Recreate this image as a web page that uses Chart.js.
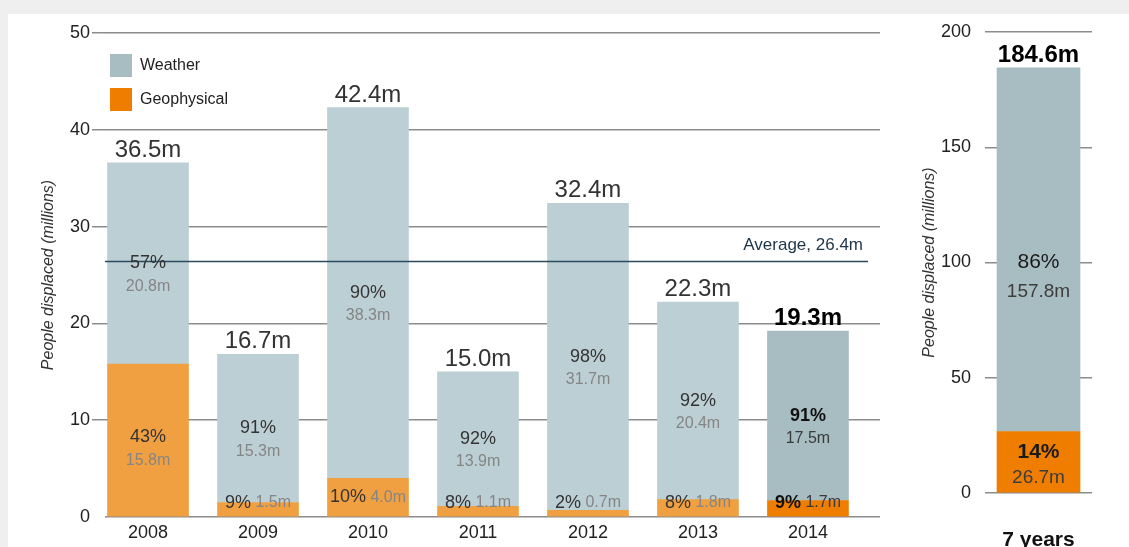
<!DOCTYPE html>
<html>
<head>
<meta charset="utf-8">
<script src="https://cdn.jsdelivr.net/npm/chart.js@4.4.0/dist/chart.umd.min.js"></script>
<style>
  html, body { margin: 0; padding: 0; width: 1129px; height: 547px; overflow: hidden; background: #efefef; }
  #panel { position: absolute; left: 8px; top: 14px; right: 0; bottom: 0; background: #ffffff; }
  #c1wrap { position: absolute; left: 0; top: 0; width: 900px; height: 547px; }
  #c2wrap { position: absolute; left: 900px; top: 0; width: 229px; height: 547px; }
</style>
</head>
<body>
<div id="panel"></div>
<div id="c1wrap"><canvas id="c1" width="900" height="547"></canvas></div>
<div id="c2wrap"><canvas id="c2" width="229" height="547"></canvas></div>
<script>
// ---- data ----
const years = ['2008', '2009', '2010', '2011', '2012', '2013', '2014'];
const weather = [20.8, 15.3, 38.3, 13.9, 31.7, 20.4, 17.5];
const geophysical = [15.8, 1.5, 4.0, 1.1, 0.7, 1.8, 1.7];
const totals = [36.5, 16.7, 42.4, 15.0, 32.4, 22.3, 19.3];
const weatherPct = [57, 91, 90, 92, 98, 92, 91];
const geoPct = [43, 9, 10, 8, 2, 8, 9];
const average = 26.4;

const summaryLabels = ['7 years'];
const summaryWeather = [157.8];
const summaryGeo = [26.7];
const summaryTotal = [184.6];
const summaryWeatherPct = [86];
const summaryGeoPct = [14];

// ---- styles ----
const FONT = "'Liberation Sans', Arial, sans-serif";
const W_LIGHT = '#bccfd4';
const W_DARK = '#a8bdc2';
const G_LIGHT = '#f0a040';
const G_DARK = '#ee7d00';
const GRID = '#8c8c8c';
const TEXT = '#333333';
const HIGHLIGHT = 6;

function fmt(v) { return v.toFixed(1) + 'm'; }

function drawPair(ctx, x, y, pct, amt, opt) {
  ctx.textAlign = 'center';
  ctx.textBaseline = 'middle';
  ctx.font = (opt.bold ? 'bold ' : '') + opt.s1 + 'px ' + FONT;
  ctx.fillStyle = opt.c1;
  ctx.fillText(pct + '%', x, y);
  ctx.font = opt.s2 + 'px ' + FONT;
  ctx.fillStyle = opt.c2;
  ctx.fillText(amt, x, y + opt.gap);
}

function drawInline(ctx, x, y, pct, amt, bold) {
  ctx.textBaseline = 'middle';
  const f1 = (bold ? 'bold ' : '') + '18px ' + FONT;
  const f2 = '16px ' + FONT;
  ctx.font = f1; const w1 = ctx.measureText(pct + '%').width;
  ctx.font = f2; const w2 = ctx.measureText(' ' + amt).width;
  const x0 = x - (w1 + w2) / 2;
  ctx.textAlign = 'left';
  ctx.font = f1; ctx.fillStyle = bold ? '#111' : TEXT;
  ctx.fillText(pct + '%', x0, y);
  ctx.font = f2; ctx.fillStyle = bold ? '#3a3a3a' : '#858585';
  ctx.fillText(' ' + amt, x0 + w1, y);
}

const mainLabels = {
  id: 'mainLabels',
  afterDatasetsDraw(chart) {
    const ctx = chart.ctx;
    const ys = chart.scales.y;
    const area = chart.chartArea;
    const gMeta = chart.getDatasetMeta(0);
    const wMeta = chart.getDatasetMeta(1);
    ctx.save();
    // average line
    const ay = ys.getPixelForValue(average);
    ctx.strokeStyle = '#2b4a5e';
    ctx.lineWidth = 1.6;
    ctx.beginPath(); ctx.moveTo(area.left, ay); ctx.lineTo(area.right - 12, ay); ctx.stroke();
    ctx.font = '17px ' + FONT;
    ctx.fillStyle = '#1e3447';
    ctx.textAlign = 'right'; ctx.textBaseline = 'alphabetic';
    ctx.fillText('Average, ' + average.toFixed(1) + 'm', area.right - 17, ay - 11);

    const zero = ys.getPixelForValue(0);
    years.forEach((yr, i) => {
      const g = gMeta.data[i], w = wMeta.data[i];
      const bold = i === HIGHLIGHT;
      const opt = {
        bold: bold, s1: 18, s2: 16, gap: 23,
        c1: bold ? '#111' : TEXT, c2: bold ? '#3a3a3a' : '#858585'
      };
      // totals
      ctx.textAlign = 'center'; ctx.textBaseline = 'alphabetic';
      ctx.font = (bold ? 'bold ' : '') + '24px ' + FONT;
      ctx.fillStyle = bold ? '#000' : TEXT;
      ctx.fillText(fmt(totals[i]), w.x, w.y - 6);
      // weather segment
      const wMid = (w.y + w.base) / 2;
      drawPair(ctx, w.x, wMid, weatherPct[i], fmt(weather[i]), opt);
      // geophysical segment
      const gh = g.base - g.y;
      if (gh > 50) {
        drawPair(ctx, g.x, (g.y + g.base) / 2 - 3, geoPct[i], fmt(geophysical[i]), opt);
      } else {
        const gy = Math.min((g.y + g.base) / 2, zero - 14);
        drawInline(ctx, g.x, gy, geoPct[i], fmt(geophysical[i]), bold);
      }
    });

    // legend
    const items = [['Weather', W_DARK], ['Geophysical', G_DARK]];
    items.forEach((it, k) => {
      const top = 54 + k * 34;
      ctx.fillStyle = it[1];
      ctx.fillRect(110, top, 22, 23);
      ctx.font = '16px ' + FONT;
      ctx.fillStyle = '#222';
      ctx.textAlign = 'left'; ctx.textBaseline = 'middle';
      ctx.fillText(it[0], 140, top + 12);
    });
    ctx.restore();
  }
};

new Chart(document.getElementById('c1'), {
  type: 'bar',
  data: {
    datasets: [
      {
        label: 'Geophysical',
        data: geophysical.map((v, i) => ({ x: i, y: v })),
        backgroundColor: ctx => ctx.dataIndex === HIGHLIGHT ? G_DARK : G_LIGHT,
        barThickness: 81
      },
      {
        label: 'Weather',
        data: weather.map((v, i) => ({ x: i, y: v })),
        backgroundColor: ctx => ctx.dataIndex === HIGHLIGHT ? W_DARK : W_LIGHT,
        barThickness: 81
      }
    ]
  },
  options: {
    responsive: false,
    animation: false,
    layout: { padding: { top: 33, right: 20, left: 0, bottom: 0 } },
    plugins: { legend: { display: false }, tooltip: { enabled: false } },
    scales: {
      x: {
        type: 'linear',
        stacked: true,
        bounds: 'data',
        offset: false,
        min: -0.391,
        max: 6.655,
        grid: { display: false, offset: false, drawTicks: false },
        border: { display: false },
        afterBuildTicks: s => { s.ticks = years.map((_, i) => ({ value: i })); },
        ticks: {
          autoSkip: false,
          maxRotation: 0,
          padding: 5,
          color: '#222',
          font: { family: FONT, size: 18 },
          callback: v => (years[Math.round(v)] !== undefined) ? years[Math.round(v)] : ''
        },
        afterFit: s => { s.height = 30; }
      },
      y: {
        stacked: true,
        min: 0,
        max: 50,
        border: { display: false },
        grid: {
          color: GRID,
          lineWidth: 1.5,
          tickLength: 13,
          tickColor: ctx => ctx.tick && ctx.tick.value === 0 ? 'rgba(0,0,0,0)' : GRID
        },
        ticks: { stepSize: 10, padding: 2, color: '#222', font: { family: FONT, size: 18 } },
        title: {
          display: true,
          text: 'People displaced (millions)',
          color: '#333',
          font: { family: FONT, size: 16, style: 'italic' },
          padding: { top: 39, bottom: 0 }
        },
        afterFit: s => { s.width = 105; }
      }
    }
  },
  plugins: [mainLabels]
});

const sumLabels = {
  id: 'sumLabels',
  afterDatasetsDraw(chart) {
    const ctx = chart.ctx;
    const g = chart.getDatasetMeta(0).data[0];
    const w = chart.getDatasetMeta(1).data[0];
    ctx.save();
    ctx.textAlign = 'center'; ctx.textBaseline = 'alphabetic';
    ctx.font = 'bold 24px ' + FONT;
    ctx.fillStyle = '#000';
    ctx.fillText(fmt(summaryTotal[0]), w.x, w.y - 6);
    drawPair(ctx, w.x, (w.y + w.base) / 2 + 13, summaryWeatherPct[0], fmt(summaryWeather[0]),
      { bold: false, s1: 21, s2: 19, gap: 29, c1: '#1a1a1a', c2: '#3d3d3d' });
    drawPair(ctx, g.x, (g.y + g.base) / 2 - 10, summaryGeoPct[0], fmt(summaryGeo[0]),
      { bold: true, s1: 21, s2: 19, gap: 26, c1: '#1a1a1a', c2: '#3d3d3d' });
    ctx.restore();
  }
};

new Chart(document.getElementById('c2'), {
  type: 'bar',
  data: {
    labels: summaryLabels,
    datasets: [
      { label: 'Geophysical', data: summaryGeo, backgroundColor: G_DARK, barThickness: 83 },
      { label: 'Weather', data: summaryWeather, backgroundColor: W_DARK, barThickness: 83 }
    ]
  },
  options: {
    responsive: false,
    animation: false,
    layout: { padding: { top: 32, right: 37, left: 0, bottom: 0 } },
    plugins: { legend: { display: false }, tooltip: { enabled: false } },
    scales: {
      x: {
        stacked: true,
        grid: { display: false },
        border: { display: false },
        ticks: { padding: 27, color: '#111', font: { family: FONT, size: 21, weight: 'bold' } },
        afterFit: s => { s.height = 54; }
      },
      y: {
        stacked: true,
        min: 0,
        max: 200,
        border: { display: false },
        grid: { color: GRID, lineWidth: 1.5, drawTicks: false },
        ticks: { stepSize: 50, padding: 14, color: '#222', font: { family: FONT, size: 18 } },
        title: {
          display: true,
          text: 'People displaced (millions)',
          color: '#333',
          font: { family: FONT, size: 16, style: 'italic' },
          padding: { top: 20, bottom: 0 }
        },
        afterFit: s => { s.width = 85; }
      }
    }
  },
  plugins: [sumLabels]
});
</script>
</body>
</html>
